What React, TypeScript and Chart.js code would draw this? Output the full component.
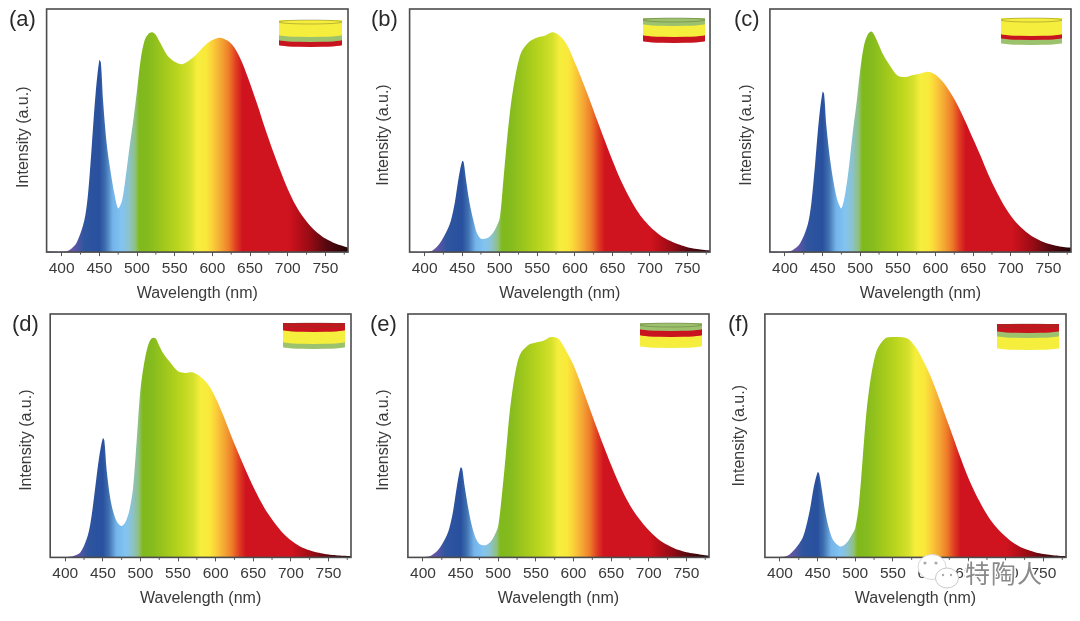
import React, { useEffect, useRef } from "react";
import { Chart, registerables } from "chart.js";

Chart.register(...registerables);

const wavelengths = [380,400,410,420,430,435,440,445,450,452,455,460,465,470,475,480,485,490,495,500,505,510,515,520,525,530,540,550,560,570,580,590,600,610,620,630,640,650,660,670,680,690,700,710,720,730,740,750,760,770,780];

const seriesA = [0.3,0.2,0.8,4,13,24,44,65,79,78,62,44,33,24,18,21,31,43,54,66.5,79.5,87,89.7,90.4,89.3,86.5,81,78.3,77.3,79,81.7,85,87.2,88.2,87,83.8,77.6,69.4,60.4,50.8,41.9,33.7,26,19.6,14.6,10.7,7.8,5.6,4,2.8,1.8];
const seriesB = [0.1,0.1,0.6,3.5,9,13,20,30,37.5,37,30,20,13,7.5,5.5,5.5,6,7.5,10,14,30,47,61,71,78.5,83,86.7,88.3,89,90.4,89,85,78,70.5,62.5,54,45.8,37.8,30.4,24,18.5,14,10.5,7.8,5.7,4.2,3,2,1.4,1,0.7];
const seriesC = [0.2,0.2,0.8,3.5,11,20,36,54,66,65,52,38,28,21,18,24,35,49,61,75,85,89.5,90.7,88.5,85,81.5,76.5,72.5,72,72.8,73.5,74.2,73,70,65.5,60,53.5,46.5,39.5,32,25.5,19.7,15,11.2,8.4,6.2,4.6,3.4,2.6,2.1,1.8];
const seriesD = [0.2,0.2,0.5,2,9,17,29,41,49,48,36,24,17.5,14,12.9,14.5,19,28,48,69,80,87,90,90,87,84,80,76.5,75.8,76,74.2,71,65.5,58.5,50.5,43,35.8,29,23,17.8,13.5,9.8,7,4.9,3.4,2.4,1.7,1.2,0.9,0.7,0.5];
const seriesE = [0.2,0.2,0.6,3,8,12,19,29,37,36.5,30,20.5,13,8,5.5,5,5.2,6.5,9,13,26,42,59,71,79.5,84,87.3,88.3,89,90.5,89.8,85,79,71,62.5,54,45.8,38,30.7,24.2,19,14.8,11.2,8.2,5.9,4.3,3,2.1,1.6,1.1,0.7];
const seriesF = [0.2,0.2,0.7,3.5,8,13,20,29,35,34.5,29,19,12,7.5,5.5,4.5,5,6.5,9,12,22,41,60,72.5,81,86,90,90.5,90.5,89.8,86.5,81,74.5,66.5,58,49.5,40.8,32.8,26,20.2,15.3,11.5,8.5,6,4.2,3,2,1.4,1,0.7,0.5];

const panelLetters = ["(a)", "(b)", "(c)", "(d)", "(e)", "(f)"];
const xTickValues = [400,425,450,475,500,525,550,575,600,625,650,675,700,725,750,775];
const spectrumNm = [380,415,430,450,458,468,480,490,498,503,515,535,555,570,580,592,600,612,622,632,640,700,712,730,750,780];
const spectrumColors = ["#6a5aa8","#6555a6","#2f559f","#28509e","#3f70b0","#74b4ea","#82c4f2","#8cc2c8","#8fc07a","#80b91c","#84bb1e","#a0c81c","#bcd61e","#d4e02c","#f6ee3c","#f9e83a","#fbcf3a","#f4a534","#ee7c28","#de3a22","#d0141f","#d0141f","#bc0f1a","#960b14","#5a0810","#220305"];

const Y = "#f5ee3c", G = "#9cc26e", R = "#c8141e";
const layerColors = [[Y, G, R], [G, Y, R], [Y, R, G], [R, Y, G], [G, R, Y], [R, G, Y]];

const allSeries = [seriesA, seriesB, seriesC, seriesD, seriesE, seriesF];

const frames = [
  { l: 46.3, r: 348, t: 9, b: 251.7, tx: 23.3, ty: 293, nb: 3, lx: 9, ly: 6 },
  { l: 410, r: 710.7, t: 9, b: 251.7, tx: 384, ty: 293, nb: 2, lx: 371, ly: 6 },
  { l: 770, r: 1070.7, t: 9, b: 251.7, tx: 746.7, ty: 293, nb: 2, lx: 734, ly: 6 },
  { l: 50.3, r: 350.7, t: 314.3, b: 557.3, tx: 26.7, ty: 598.3, nb: 2, lx: 12, ly: 311 },
  { l: 408.3, r: 709, t: 314.3, b: 557.3, tx: 384, ty: 598.3, nb: 2, lx: 370, ly: 311 },
  { l: 765.3, r: 1066.7, t: 314.3, b: 557.3, tx: 740, ty: 598.3, nb: 0, lx: 728, ly: 311 },
];

const insets = [
  { x: 279, w: 63, y: [22, 37, 42, 47] },
  { x: 643, w: 62, y: [20, 26, 37, 43] },
  { x: 1001, w: 61, y: [20, 36, 40, 45] },
  { x: 283, w: 62, y: [325, 332, 344, 349] },
  { x: 640, w: 62, y: [325, 331, 337, 348] },
  { x: 997, w: 62, y: [326, 333, 338, 350] },
];

const FONT = "'Liberation Sans', Arial, sans-serif";
const TEXT = "#3a3a3a";

const framePlugin = {
  id: "frameAndMinors",
  afterDraw(chart: any) {
    const { ctx, chartArea: a, scales } = chart;
    ctx.save();
    ctx.strokeStyle = "#4c4c4c";
    ctx.lineWidth = 1.6;
    ctx.strokeRect(a.left, a.top, a.right - a.left, a.bottom - a.top);
    ctx.lineWidth = 1;
    ctx.strokeStyle = "#555";
    for (const v of xTickValues) {
      if (v % 50 === 0) continue;
      const x = scales.x.getPixelForValue(v);
      ctx.beginPath();
      ctx.moveTo(x, a.bottom);
      ctx.lineTo(x, a.bottom + 2.5);
      ctx.stroke();
    }
    ctx.restore();
  },
};

function Panel({ index }: { index: number }) {
  const ref = useRef<HTMLCanvasElement>(null);
  const f = frames[index];
  const lineH = 19.2;
  const left = f.tx - lineH / 2;
  const right = f.r + 3;
  const top = f.t - 3;
  const bottom = f.ty + lineH / 2;
  const W = Math.round(right - left);
  const H = Math.round(bottom - top);

  useEffect(() => {
    const values = allSeries[index];
    const chart = new Chart(ref.current as HTMLCanvasElement, {
      type: "line",
      data: {
        datasets: [
          {
            data: wavelengths.map((x, i) => ({ x, y: values[i] })),
            fill: "origin",
            borderWidth: 0,
            pointRadius: 0,
            tension: 0.3,
            backgroundColor: (c: any) => {
              const { chart: ch } = c;
              if (!ch.chartArea) return "#888";
              const sx = ch.scales.x;
              const g = ch.ctx.createLinearGradient(sx.getPixelForValue(380), 0, sx.getPixelForValue(780), 0);
              spectrumNm.forEach((nm, i) => g.addColorStop((nm - 380) / 400, spectrumColors[i]));
              return g;
            },
          },
        ],
      },
      options: {
        responsive: false,
        animation: false,
        layout: { padding: { top: 3, right: right - f.r, left: 0, bottom: 0 } },
        plugins: { legend: { display: false }, tooltip: { enabled: false } },
        scales: {
          x: {
            type: "linear",
            min: 380,
            max: 780,
            afterBuildTicks: (s: any) => {
              s.ticks = xTickValues.map((value) => ({ value }));
            },
            afterFit: (s: any) => {
              s.height = bottom - f.b;
            },
            grid: {
              drawOnChartArea: false,
              drawTicks: true,
              tickLength: 4,
              tickColor: (c: any) => (c.tick && c.tick.value % 50 === 0 ? "#555" : "rgba(0,0,0,0)"),
            },
            border: { display: false },
            ticks: {
              autoSkip: false,
              maxRotation: 0,
              padding: 3,
              color: TEXT,
              font: { family: FONT, size: 15.5 },
              callback: (v: any) => (Number(v) % 50 === 0 ? String(v) : ""),
            },
            title: {
              display: true,
              text: "Wavelength (nm)",
              color: TEXT,
              font: { family: FONT, size: 16, lineHeight: 1.2 },
              padding: 0,
            },
          },
          y: {
            min: 0,
            max: 100,
            afterFit: (s: any) => {
              s.width = f.l - left;
            },
            grid: { display: false },
            border: { display: false },
            ticks: { display: false },
            title: {
              display: true,
              text: "Intensity (a.u.)" + "\u00a0".repeat(f.nb),
              color: TEXT,
              font: { family: FONT, size: 16, lineHeight: 1.2 },
              padding: 0,
            },
          },
        },
      } as any,
      plugins: [framePlugin],
    } as any);
    return () => chart.destroy();
  }, [index]);

  return (
    <>
      <canvas
        ref={ref}
        width={W}
        height={H}
        style={{ position: "absolute", left, top, width: W, height: H }}
      />
      <div
        style={{
          position: "absolute",
          left: f.lx,
          top: f.ly,
          font: `22px ${FONT}`,
          color: "#2a2a2a",
          lineHeight: "26px",
        }}
      >
        {panelLetters[index]}
      </div>
    </>
  );
}

function Inset({ index }: { index: number }) {
  const { x, w, y } = insets[index];
  const colors = layerColors[index];
  const cx = x + w / 2;
  const rx = w / 2;
  const ry = 2;
  const layers = [2, 1, 0].map((i) => {
    const y0 = y[i] - ry;
    const y1 = y[i + 1];
    return (
      <path
        key={i}
        d={`M${x} ${y0} L${x + w} ${y0} L${x + w} ${y1 - ry} A${rx} ${ry} 0 0 1 ${x} ${y1 - ry} Z`}
        fill={colors[i]}
      />
    );
  });
  return (
    <g>
      {layers}
      <ellipse
        cx={cx}
        cy={y[0]}
        rx={rx}
        ry={ry}
        fill={colors[0]}
        stroke="rgba(80,80,40,0.45)"
        strokeWidth={0.8}
      />
    </g>
  );
}

export default function App() {
  return (
    <div
      style={{
        position: "absolute",
        left: 0,
        top: 0,
        width: 1080,
        height: 621,
        overflow: "hidden",
        background: "#fff",
      }}
    >
      <div style={{ position: "absolute", inset: 0, filter: "blur(0.45px)" }}>
        {frames.map((_, i) => (
          <Panel key={i} index={i} />
        ))}
        <svg width={1080} height={621} style={{ position: "absolute", left: 0, top: 0 }}>
          {insets.map((_, i) => (
            <Inset key={i} index={i} />
          ))}
          <ellipse cx={932} cy={567} rx={14} ry={12.5} fill="#fff" stroke="#d8d8d8" strokeWidth={1} />
          <ellipse cx={947} cy={578} rx={11.5} ry={10} fill="#fff" stroke="#c8c8c8" strokeWidth={1} />
          <circle cx={925} cy={563} r={1.6} fill="#aaa" />
          <circle cx={936} cy={563} r={1.6} fill="#aaa" />
          <circle cx={943} cy={575} r={1.2} fill="#aaa" />
          <circle cx={951} cy={575} r={1.2} fill="#aaa" />
          <text
            x={1004}
            y={583}
            textAnchor="middle"
            fontSize={25}
            fontFamily="'Noto Sans CJK SC'"
            fill="#8a8a8a"
            stroke="#fff"
            strokeWidth={3}
            paintOrder="stroke"
            letterSpacing={1}
          >
            特陶人
          </text>
        </svg>
      </div>
    </div>
  );
}
